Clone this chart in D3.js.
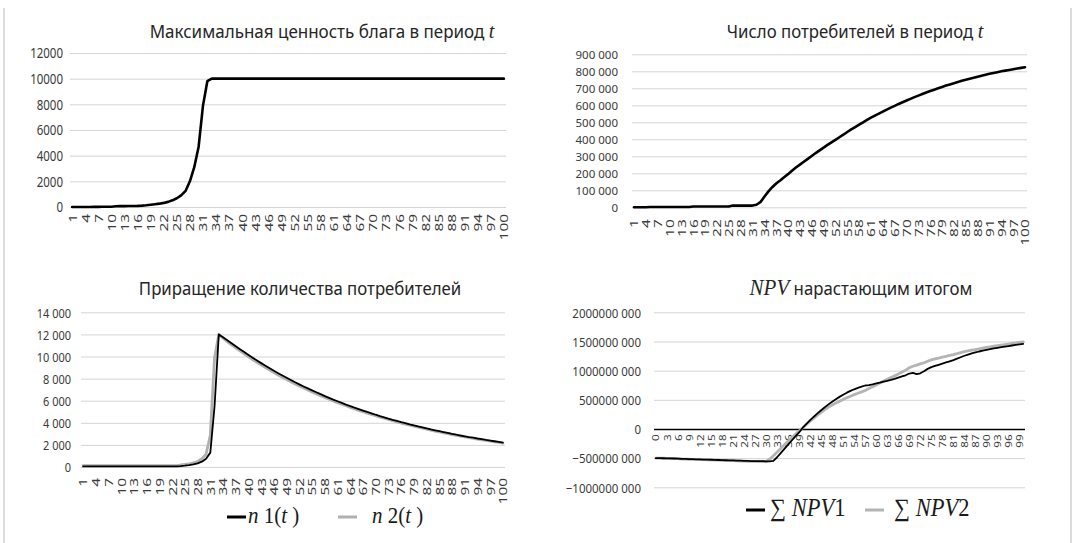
<!DOCTYPE html>
<html><head><meta charset="utf-8">
<script src="https://cdn.jsdelivr.net/npm/d3@7/dist/d3.min.js"></script>
<style>body{margin:0;background:#fff}svg{display:block}</style>
</head><body>
<svg id="c" width="1073" height="543"></svg>
<script>
// ---------------- DATA ----------------
const periods = d3.range(1, 101);          // t = 1..100
const periodsNPV = d3.range(0, 101);       // t = 0..100
const tickLabelsT = [1,4,7,10,13,16,19,22,25,28,31,34,37,40,43,46,49,52,55,58,61,64,67,70,73,76,79,82,85,88,91,94,97,100];
const tickLabelsNPV = [0,3,6,9,12,15,18,21,24,27,30,33,36,39,42,45,48,51,54,57,60,63,66,69,72,75,78,81,84,87,90,93,96,99];

const yTicksValue = [0,2000,4000,6000,8000,10000,12000];
const yTicksConsumers = [0,100000,200000,300000,400000,500000,600000,700000,800000,900000];
const yTicksIncrement = [0,2000,4000,6000,8000,10000,12000,14000];
const yTicksNPV = [-1000000000,-500000000,0,500000000,1000000000,1500000000,2000000000];

// Максимальная ценность блага
const maxValue = [0,0,0,0,5,10,10,15,20,25,
  60,70,70,75,80,90,110,140,180,220,
  260,320,400,520,680,900,1250,2000,3100,4700,
  7900,9800,10000,10000,10000,10000,10000,10000,10000,10000,
  10000,10000,10000,10000,10000,10000,10000,10000,10000,10000,
  10000,10000,10000,10000,10000,10000,10000,10000,10000,10000,
  10000,10000,10000,10000,10000,10000,10000,10000,10000,10000,
  10000,10000,10000,10000,10000,10000,10000,10000,10000,10000,
  10000,10000,10000,10000,10000,10000,10000,10000,10000,10000,
  10000,10000,10000,10000,10000,10000,10000,10000,10000,10000];

// Число потребителей
const consumers = [0,0,0,0,2000,2000,2000,2000,2000,2000,
  2000,2000,2000,2000,2000,5000,5000,5000,5000,5000,
  5000,5000,5000,5000,5000,10000,10000,10000,10000,10000,
  10000,15000,30000,62000,92000,118000,140000,158000,177000,195000,
  215000,234000,251000,268000,285000,302000,319000,335000,351000,367000,
  382000,397000,412000,427000,443000,458000,472000,486000,500000,514000,
  527000,539000,551000,563000,575000,586000,597000,608000,618000,628000,
  638000,648000,657000,666000,675000,684000,692000,700000,708000,716000,
  723000,730000,737000,744000,750000,756000,762000,768000,774000,780000,
  785000,790000,795000,800000,804000,808000,812000,816000,820000,824000];

// Приращение количества потребителей
const n1 = [50,50,50,50,50,50,50,50,50,50,
  50,50,50,50,50,50,50,50,50,50,
  50,50,50,80,120,170,230,330,480,750,
  1300,5500,12000,11750,11480,11200,10930,10660,10400,10140,
  9890,9640,9400,9160,8930,8710,8490,8280,8070,7870,
  7670,7480,7290,7110,6930,6760,6590,6420,6260,6100,
  5950,5800,5650,5510,5370,5240,5110,4980,4860,4730,
  4610,4500,4380,4270,4170,4060,3960,3860,3770,3670,
  3580,3490,3400,3320,3240,3160,3080,3000,2930,2850,
  2780,2710,2650,2580,2520,2450,2390,2330,2270,2210];
const n2 = [120,120,120,120,120,120,120,120,120,120,
  120,120,120,120,120,120,120,120,120,120,
  120,120,120,180,230,290,370,500,750,1150,
  2900,9900,12000,11650,11350,11050,10770,10500,10230,9970,
  9720,9470,9230,9000,8770,8550,8330,8120,7920,7720,
  7520,7330,7150,6970,6790,6620,6450,6290,6130,5980,
  5830,5680,5540,5400,5260,5130,5000,4880,4750,4640,
  4520,4410,4300,4190,4090,3980,3880,3790,3690,3600,
  3510,3420,3340,3250,3170,3090,3010,2940,2860,2790,
  2720,2650,2590,2520,2460,2400,2340,2280,2220,2160];

// NPV нарастающим итогом, млн
const npv1Mln = [-500,-500,-502,-503,-505,-506,-508,
  -512,-514,-516,-518,-520,-522,-524,-526,-528,-530,-532,-534,-536,-538,
  -540,-542,-544,-546,-548,-550,-551,-552,-553,-554,-555,
  -548,-485,-415,-342,-270,-198,-128,-60,
  22,87,150,210,266,320,372,421,468,510,550,588,622,652,680,705,725,
  745,752,765,780,795,812,825,840,858,880,900,920,950,960,940,955,
  990,1030,1060,1080,1100,1120,1140,1160,1180,1205,1230,1255,1275,1295,1312,1328,1342,1355,1368,1380,1392,1403,1413,1422,1431,1440,1449,1458];
const npv2Mln = [-500,-500,-502,-504,-506,-508,-510,
  -515,-517,-519,-521,-523,-525,-527,-529,-531,-533,-535,-537,-539,-541,
  -544,-547,-550,-553,-555,-556,-557,-558,-558,-558,
  -520,-460,-398,-335,-272,-210,-150,-92,-36,
  20,78,133,186,237,285,331,375,412,445,477,507,535,562,588,612,636,660,
  695,725,755,790,820,850,880,910,940,975,1005,1050,1075,1095,1115,1135,1160,1185,
  1200,1215,1230,1245,1260,1275,1292,1308,1325,1338,1350,1362,1374,1386,1397,1408,1418,1428,1438,1447,1456,1465,1474,1483,1492];

// ---------------- DRAW ----------------
const SANS = "'Noto Sans','Open Sans',sans-serif";
const SERIF = "'Liberation Serif','DejaVu Serif',serif";
const svg = d3.select('#c');

// outer frame
svg.append('line').attr('x1',4).attr('x2',4).attr('y1',8).attr('y2',543).attr('stroke','#dcdcdc').attr('stroke-width',2);
svg.append('line').attr('x1',1071).attr('x2',1071).attr('y1',8).attr('y2',543).attr('stroke','#dcdcdc').attr('stroke-width',2);

function fmtPlain(v){ return String(v); }
function fmtGroup(v){
  const s = String(Math.abs(v));
  const g = s.length > 3 ? s.slice(0, -3) + ' ' + s.slice(-3) : s;
  return (v < 0 ? '\u2212' : '') + g;
}

function panel(cfg){
  const g = svg.append('g');
  const x = d3.scalePoint().domain(cfg.cats).range([cfg.x0, cfg.x1]).padding(0.5);
  const y = d3.scaleLinear().domain(cfg.yDomain).range([cfg.yBottom, cfg.yTop]);

  // y axis with gridlines
  const ya = g.append('g').attr('transform', `translate(${cfg.x0},0)`)
    .call(d3.axisLeft(y).tickValues(cfg.yTicks).tickSize(-(cfg.x1 - cfg.x0)).tickPadding(0).tickFormat(cfg.fmt));
  ya.select('.domain').remove();
  ya.selectAll('.tick line').attr('stroke', d => (d === 0 && cfg.zeroDark) ? '#000' : '#d4d4d4')
    .attr('stroke-width', d => (d === 0 && cfg.zeroDark) ? 1.5 : 1);
  ya.selectAll('.tick text').attr('x', null).attr('dy', null)
    .attr('transform', `translate(${cfg.yLabelGap},0) scale(1,${cfg.yStretch})`)
    .attr('dy', '0.36em')
    .attr('font-family', SANS).attr('font-size', cfg.yFont).attr('fill', '#3a3a3a').attr('text-anchor', 'end');

  // x axis labels
  const xa = g.append('g').attr('transform', `translate(0,${cfg.xAxisY})`)
    .call(d3.axisBottom(x).tickValues(cfg.xTicks).tickSize(0).tickPadding(0));
  xa.select('.domain').remove();
  xa.selectAll('.tick text').attr('y', null).attr('dy', null)
    .attr('transform', `translate(0,${cfg.xLabelGap}) rotate(-90) scale(${cfg.xStretch},1)`)
    .attr('dy', '0.35em').attr('text-anchor', 'end')
    .attr('font-family', SANS).attr('font-size', cfg.xFont).attr('fill', '#3a3a3a');

  // lines
  const line = d3.line().x((d, i) => x(cfg.cats[i])).y(d => y(d));
  cfg.series.forEach(s => {
    g.append('path').datum(s.values).attr('d', line)
      .attr('fill', 'none').attr('stroke', s.color).attr('stroke-width', s.width)
      .attr('stroke-linejoin', 'round').attr('stroke-linecap', 'round');
  });

  // title
  const t = g.append('text').attr('text-anchor', 'middle')
    .attr('transform', `translate(${cfg.titleX},${cfg.titleY}) scale(1,1.1)`)
    .attr('font-family', SANS).attr('font-size', cfg.titleSize).attr('fill', '#262626');
  cfg.title.forEach(p => {
    const ts = t.append('tspan').text(p.t);
    if (p.it) ts.attr('font-family', SERIF).attr('font-style', 'italic').attr('font-size', p.size || 20);
  });
  return {g, x, y};
}

function legendItem(g, x, y, textX, color, parts, size){
  g.append('line').attr('x1', x).attr('x2', x + 19).attr('y1', y - 6).attr('y2', y - 6)
    .attr('stroke', color).attr('stroke-width', 3);
  const t = g.append('text').attr('transform', `translate(${textX},${y}) scale(1,1.1)`)
    .attr('font-family', SERIF).attr('font-size', size).attr('fill', '#1a1a1a');
  parts.forEach(p => {
    const ts = t.append('tspan').text(p.t);
    if (p.it) ts.attr('font-style', 'italic');
  });
}

// Panel A
panel({cats: periods, x0: 70, x1: 506, yDomain: [0, 12000], yBottom: 207, yTop: 53,
  yTicks: yTicksValue, fmt: fmtPlain, yLabelGap: -7, yFont: 11.5, yStretch: 1.2,
  xTicks: tickLabelsT, xAxisY: 207, xLabelGap: 7, xFont: 11, xStretch: 1.4,
  series: [{values: maxValue, color: '#000', width: 2.6}],
  title: [{t: 'Максимальная ценность блага в период '}, {t: 't', it: true}], titleX: 322, titleY: 38, titleSize: 17});

// Panel B
panel({cats: periods, x0: 632, x1: 1027, yDomain: [0, 900000], yBottom: 207.3, yTop: 54.3,
  yTicks: yTicksConsumers, fmt: fmtGroup, yLabelGap: -14, yFont: 11.5, yStretch: 1.0,
  xTicks: tickLabelsT, xAxisY: 207.3, xLabelGap: 12, xFont: 11, xStretch: 1.4,
  series: [{values: consumers, color: '#000', width: 2.6}],
  title: [{t: 'Число потребителей в период '}, {t: 't', it: true}], titleX: 855, titleY: 38, titleSize: 16.8});

// Panel C
const pc = panel({cats: periods, x0: 81, x1: 505, yDomain: [0, 14000], yBottom: 467, yTop: 312.3,
  yTicks: yTicksIncrement, fmt: fmtGroup, yLabelGap: -10, yFont: 11, yStretch: 1.2,
  xTicks: tickLabelsT, xAxisY: 467, xLabelGap: 11, xFont: 11, xStretch: 1.4,
  series: [{values: n2, color: '#b0b0b0', width: 2.8}, {values: n1, color: '#000', width: 1.8}],
  title: [{t: 'Приращение количества потребителей'}], titleX: 300, titleY: 295, titleSize: 16.8});
legendItem(pc.g, 227, 523, 248, '#000', [{t:'n',it:true},{t:' 1('},{t:'t',it:true},{t:' )'}], 21);
legendItem(pc.g, 338, 523, 372, '#b0b0b0', [{t:'n',it:true},{t:' 2('},{t:'t',it:true},{t:' )'}], 21);

// Panel D
const pd = panel({cats: periodsNPV, x0: 654, x1: 1025, yDomain: [-1000000000, 2000000000], yBottom: 487.3, yTop: 312.3,
  yTicks: yTicksNPV, fmt: fmtGroup, yLabelGap: -13, yFont: 11.5, yStretch: 1.15,
  xTicks: tickLabelsNPV, xAxisY: 429.3, xLabelGap: 5, xFont: 9, xStretch: 1.3, zeroDark: true,
  series: [{values: npv2Mln.map(v => v * 1e6), color: '#b4b4b4', width: 2.8}, {values: npv1Mln.map(v => v * 1e6), color: '#000', width: 1.8}],
  title: [{t: 'NPV', it: true, size: 21}, {t: ' нарастающим итогом'}], titleX: 861, titleY: 295, titleSize: 16.8});
legendItem(pd.g, 746, 516, 770, '#000', [{t:'\u2211 '},{t:'NPV',it:true},{t:'1'}], 22.5);
legendItem(pd.g, 865, 516, 894, '#b4b4b4', [{t:'\u2211 '},{t:'NPV',it:true},{t:'2'}], 22.5);
</script>
</body></html>
